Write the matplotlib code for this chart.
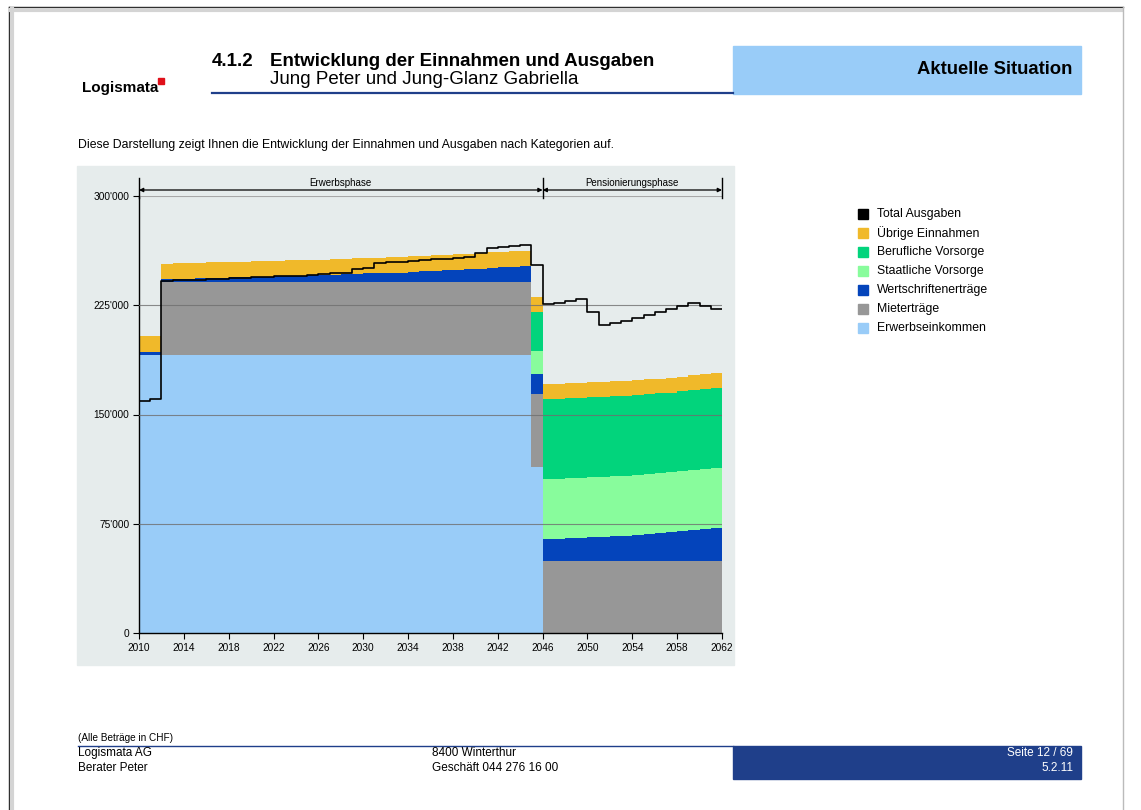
import matplotlib
matplotlib.use('Agg')
import matplotlib.pyplot as plt
from matplotlib.patches import Rectangle
from matplotlib.lines import Line2D
from matplotlib.ticker import FuncFormatter, MultipleLocator

plt.rcParams['font.family'] = ['Liberation Sans', 'DejaVu Sans']

W, H = 1141, 810

# ---- data (CHF per year, step per year 2010..2061) ----
years = list(range(2010, 2062))

erwerbseinkommen = [
    190800, 190800, 190800, 190800, 190800, 190800, 190800, 190800, 190800, 190800,
    190800, 190800, 190800, 190800, 190800, 190800, 190800, 190800, 190800, 190800,
    190800, 190800, 190800, 190800, 190800, 190800, 190800, 190800, 190800, 190800,
    190800, 190800, 190800, 190800, 190800, 114000,
    0, 0, 0, 0, 0, 0, 0, 0, 0, 0, 0, 0, 0, 0, 0, 0]
mietertraege = [
    0, 0, 50000, 50000, 50000, 50000, 50000, 50000, 50000, 50000,
    50000, 50000, 50000, 50000, 50000, 50000, 50000, 50000, 50000, 50000,
    50000, 50000, 50000, 50000, 50000, 50000, 50000, 50000, 50000, 50000,
    50000, 50000, 50000, 50000, 50000, 50000,
    49600, 49600, 49600, 49600, 49600, 49600, 49600, 49600,
    49600, 49600, 49600, 49600, 49600, 49600, 49600, 49600]
wertschriften = [
    2300, 2300, 2100, 2300, 2500, 2700, 2900, 3100, 3300, 3500,
    3700, 3900, 4100, 4300, 4500, 4700, 4900, 5200, 5500, 5800,
    6000, 6200, 6400, 6600, 7000, 7400, 7800, 8200, 8600, 9000,
    9400, 9800, 10200, 10600, 11000, 14100,
    14900, 15200, 15500, 15800, 16100, 16500, 16900, 17300,
    17700, 18200, 18800, 19400, 20100, 20900, 21800, 22800]
staatliche = [0] * 35 + [15300] + [
    41200, 41200, 41200, 41200, 41200, 41200, 41200, 41200,
    41200, 41200, 41200, 41200, 41200, 41200, 41200, 41200]
berufliche = [0] * 35 + [26800] + [
    54900, 54900, 54900, 54900, 54900, 54900, 54900, 54900,
    54900, 54900, 54900, 54900, 54900, 54900, 54900, 54900]
uebrige = [
    10800, 10800, 10700, 10700, 10700, 10700, 10700, 10700, 10700, 10700,
    10700, 10700, 10700, 10700, 10700, 10700, 10700, 10700, 10700, 10700,
    10700, 10700, 10700, 10700, 10700, 10700, 10700, 10700, 10700, 10700,
    10700, 10700, 10700, 10700, 10700, 10600,
    10200, 10200, 10200, 10200, 10200, 10200, 10200, 10200,
    10200, 10200, 10200, 10200, 10200, 10200, 10200, 10200]
total_ausgaben = [
    159500, 160500, 241900, 242100, 242300, 242600, 243000, 243300, 243700, 244000,
    244400, 244600, 244800, 245000, 245300, 245700, 246200, 246800, 247000, 249800,
    250500, 253900, 254600, 255000, 255400, 256100, 256600, 256900, 257400, 257800,
    261100, 264100, 265200, 265600, 266400, 252700,
    225800, 226500, 228100, 229000, 220300, 211400, 212800, 214200,
    216500, 218300, 220300, 222200, 224500, 226500, 224700, 222200]

stack_names = ['Erwerbseinkommen', 'Mieterträge', 'Wertschriftenerträge',
               'Staatliche Vorsorge', 'Berufliche Vorsorge', 'Übrige Einnahmen']
stack_values = [erwerbseinkommen, mietertraege, wertschriften,
                staatliche, berufliche, uebrige]
stack_colors = ['#99ccf8', '#979797', '#0444bb', '#88fc9c', '#02d47c', '#f0b92a']

phases = ['Erwerbsphase', 'Pensionierungsphase']
phase_bounds = [2010, 2046, 2062]
x_ticks = list(range(2010, 2063, 4))

NAVY = '#1f3f8a'
PANEL = '#e6ecec'


def fx(x):
    return x / W


def fy(y):
    return 1 - y / H


fig = plt.figure(figsize=(W / 100, H / 100), dpi=100)

# page frame
fig.add_artist(Line2D([fx(9), fx(9)], [fy(7), 0], color='#222222', lw=1))
fig.add_artist(Line2D([fx(9), fx(1123)], [fy(7), fy(7)], color='#222222', lw=1))
fig.add_artist(Line2D([fx(11.5), fx(11.5)], [fy(9), 0], color='#d4d4d4', lw=3))
fig.add_artist(Line2D([fx(11), fx(1121)], [fy(9.5), fy(9.5)], color='#d4d4d4', lw=3))
fig.add_artist(Line2D([fx(1123), fx(1123)], [fy(7), 0], color='#bbbbbb', lw=1))

# header
fig.text(fx(82), fy(88), 'Logismata', fontsize=11, fontweight='bold', va='center')
fig.add_artist(Rectangle((fx(158), fy(84)), fx(6), 6 / H, color='#e0101a'))
fig.text(fx(212), fy(61), '4.1.2', fontsize=13.5, fontweight='bold', va='center')
fig.text(fx(270), fy(61), 'Entwicklung der Einnahmen und Ausgaben',
         fontsize=13.5, fontweight='bold', va='center')
fig.text(fx(270), fy(79), 'Jung Peter und Jung-Glanz Gabriella', fontsize=13.5,
         va='center')
fig.add_artist(Line2D([fx(212), fx(733)], [fy(93), fy(93)], color=NAVY, lw=1.6))
fig.add_artist(Rectangle((fx(733), fy(94)), fx(348), 48 / H, color='#99ccf8'))
fig.text(fx(1072), fy(70), 'Aktuelle Situation', fontsize=13.3, fontweight='bold',
         ha='right', va='center')

fig.text(fx(78), fy(145), 'Diese Darstellung zeigt Ihnen die Entwicklung der '
         'Einnahmen und Ausgaben nach Kategorien auf.', fontsize=8.8, va='center')

# chart panel
fig.add_artist(Rectangle((fx(77), fy(665)), fx(657), 499 / H, color=PANEL, zorder=0))

ax = fig.add_axes([fx(139), fy(633), fx(583), 437 / H])
ax.set_facecolor(PANEL)
ax.set_xlim(2010, 2062)
ax.set_ylim(0, 300000)

edges = years + [2062]
base = [0] * len(years)
for name, vals, col in zip(stack_names, stack_values, stack_colors):
    top = [b + v for b, v in zip(base, vals)]
    ax.fill_between(edges, base + [base[-1]], top + [top[-1]], step='post',
                    color=col, lw=0, zorder=2)
    base = top

for yv in [75000, 150000, 225000]:
    ax.axhline(yv, color='#6f6f6f', lw=0.8, alpha=0.8, zorder=3)
ax.axhline(300000, color='#a8a8a8', lw=0.8, zorder=3)

ax.step(edges, total_ausgaben + [total_ausgaben[-1]], where='post',
        color='black', lw=1.2, zorder=4)

for s in ['top', 'right']:
    ax.spines[s].set_visible(False)
ax.spines['left'].set_linewidth(1.0)
ax.spines['bottom'].set_linewidth(1.0)
ax.set_xticks(x_ticks)
ax.yaxis.set_major_locator(MultipleLocator(75000))
ax.yaxis.set_major_formatter(FuncFormatter(lambda v, p: f"{int(v):,}".replace(',', "'")))
ax.tick_params(axis='both', length=4, width=0.8, labelsize=7.3, pad=3)

# phase bracket above the plot
px_y = 300000 / 437
for xb in phase_bounds:
    ax.plot([xb, xb], [300000 - 2 * px_y, 300000 + 18 * px_y], color='black',
            lw=1.0, clip_on=False, zorder=5)
for i, name in enumerate(phases):
    x0, x1 = phase_bounds[i], phase_bounds[i + 1]
    ax.annotate('', xy=(x0, 300000 + 6 * px_y), xytext=(x1, 300000 + 6 * px_y),
                arrowprops=dict(arrowstyle='<|-|>', color='black', lw=0.9,
                                mutation_scale=6, shrinkA=0, shrinkB=0),
                annotation_clip=False)
    ax.text((x0 + x1) / 2, 300000 + 13 * px_y, name, fontsize=7, ha='center',
            va='center', clip_on=False)

# legend
legend_names = ['Total Ausgaben'] + stack_names[::-1]
legend_colors = ['black'] + stack_colors[::-1]
for i, (name, col) in enumerate(zip(legend_names, legend_colors)):
    yc = 214 + 19 * i
    fig.add_artist(Rectangle((fx(858), fy(yc + 5)), fx(10), 10 / H, color=col))
    fig.text(fx(877), fy(yc), name, fontsize=8.8, va='center')

# footer
fig.text(fx(78), fy(738), '(Alle Beträge in CHF)', fontsize=7.2, va='center')
fig.add_artist(Line2D([fx(78), fx(733)], [fy(746), fy(746)], color=NAVY, lw=1))
fig.add_artist(Rectangle((fx(733), fy(779)), fx(348), 33 / H, color=NAVY))
fig.text(fx(78), fy(753), 'Logismata AG', fontsize=8.5, va='center')
fig.text(fx(78), fy(768), 'Berater Peter', fontsize=8.5, va='center')
fig.text(fx(432), fy(753), '8400 Winterthur', fontsize=8.5, va='center')
fig.text(fx(432), fy(768), 'Geschäft 044 276 16 00', fontsize=8.5, va='center')
fig.text(fx(1073), fy(753), 'Seite 12 / 69', fontsize=8.5, va='center', ha='right',
         color='white')
fig.text(fx(1073), fy(768), '5.2.11', fontsize=8.5, va='center', ha='right',
         color='white')

fig.savefig('out.png', dpi=100)
